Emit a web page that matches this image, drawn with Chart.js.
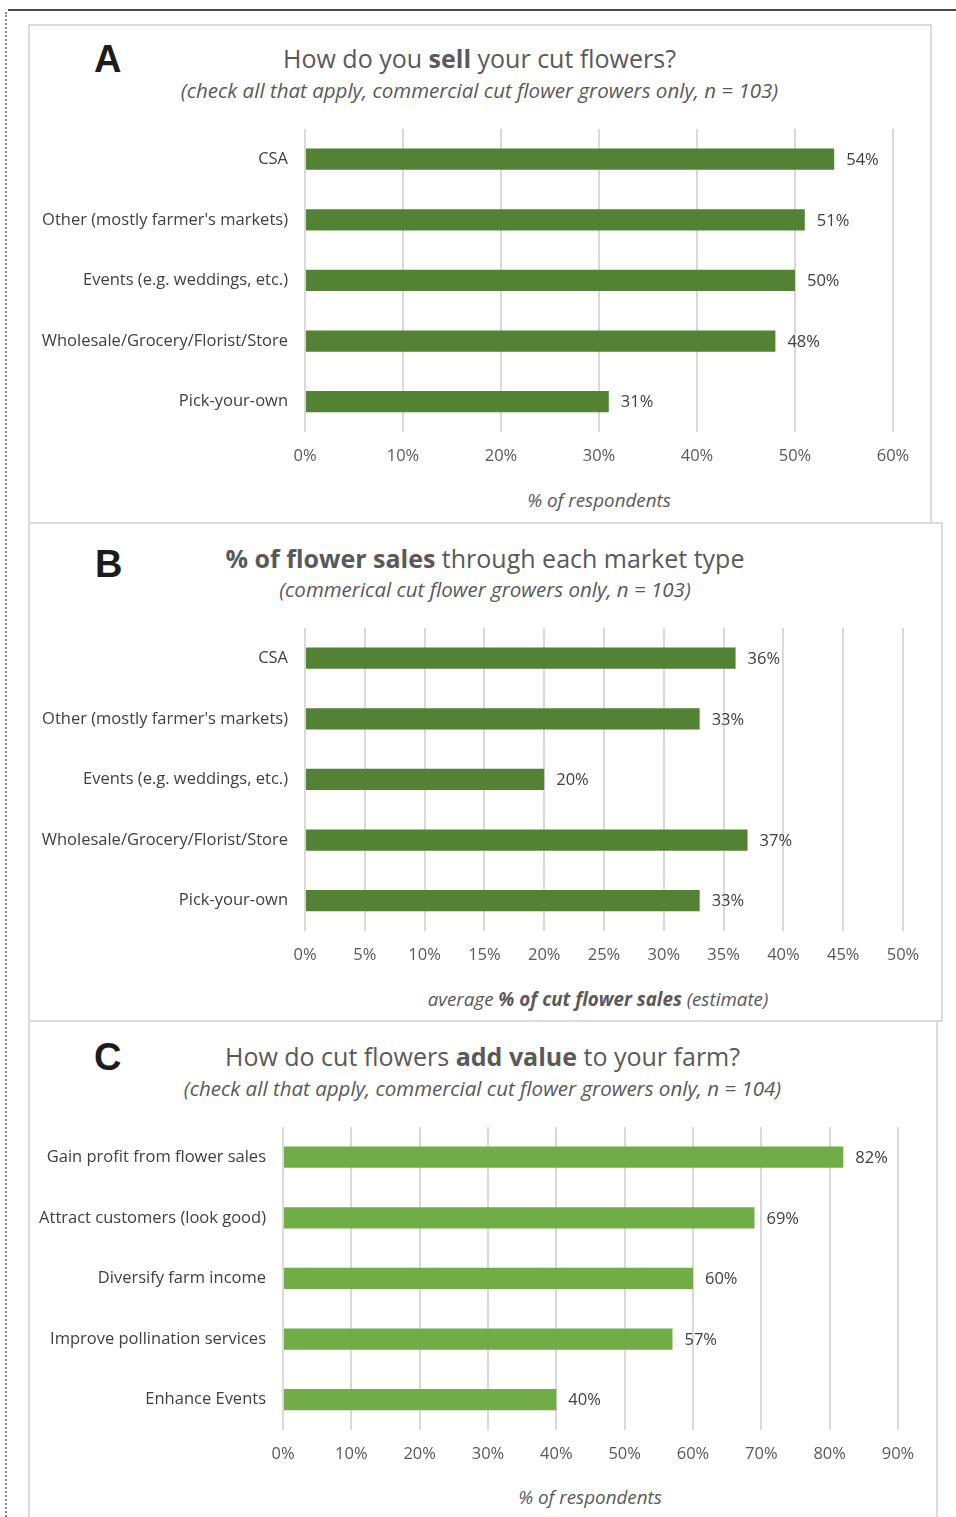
<!DOCTYPE html>
<html>
<head>
<meta charset="utf-8">
<script src="https://cdn.jsdelivr.net/npm/chart.js@4"></script>
<style>
  body { margin: 0; width: 956px; height: 1517px; overflow: hidden; background: #fff; font-family: "Open Sans", sans-serif; position: relative; }
  .abs { position: absolute; }
  .panel { position: absolute; box-sizing: border-box; border: 2px solid #dcdcdc; background: #fff; }
  .letter { position: absolute; font: bold 38px "Liberation Sans", Arial, sans-serif; line-height: 40px; color: #1c1c1c; }
  .title { position: absolute; text-align: center; font-size: 25px; line-height: 30px; color: #595959; white-space: nowrap; }
  .sub { position: absolute; text-align: center; font-size: 20.5px; font-style: italic; line-height: 26px; color: #595959; white-space: nowrap; }
  .axt { position: absolute; width: 600px; text-align: center; font-size: 18.8px; font-style: italic; line-height: 24px; color: #595959; white-space: nowrap; }
  canvas { position: absolute; }
</style>
</head>
<body>
<div class="abs" style="left:8px;top:9px;width:948px;height:0;border-top:2px solid #4a4a4a;"></div>
<div class="abs" style="left:5px;top:12px;width:0;height:1505px;border-left:2px dotted #8a8a8a;"></div>

<div class="panel" style="left:28px;top:24px;width:904px;height:500px;"></div>
<div class="panel" style="left:28px;top:522px;width:915px;height:500px;"></div>
<div class="panel" style="left:28px;top:1020px;width:910px;height:520px;"></div>

<div class="letter" style="left:94px;top:39px;">A</div>
<div class="title" style="left:28px;width:903px;top:43px;">How do you <b>sell</b> your cut flowers?</div>
<div class="sub" style="left:28px;width:903px;top:77px;">(check all that apply, commercial cut flower growers only, n = 103)</div>
<canvas id="chartA" width="903" height="373" style="left:28px;top:102px;"></canvas>
<div class="axt" style="left:299px;top:488px;">% of respondents</div>

<div class="letter" style="left:95px;top:544px;">B</div>
<div class="title" style="left:28px;width:914px;top:543px;"><b>% of flower sales</b> through each market type</div>
<div class="sub" style="left:28px;width:914px;top:576px;">(commerical cut flower growers only, n = 103)</div>
<canvas id="chartB" width="914" height="373" style="left:28px;top:601px;"></canvas>
<div class="axt" style="left:298px;top:987px;">average <b>% of cut flower sales</b> (estimate)</div>

<div class="letter" style="left:94px;top:1037px;">C</div>
<div class="title" style="left:28px;width:909px;top:1041px;">How do cut flowers <b>add value</b> to your farm?</div>
<div class="sub" style="left:28px;width:909px;top:1075px;">(check all that apply, commercial cut flower growers only, n = 104)</div>
<canvas id="chartC" width="909" height="373" style="left:28px;top:1100px;"></canvas>
<div class="axt" style="left:290px;top:1485px;">% of respondents</div>

<script>
// panel A: how growers sell
const marketsA = ['CSA', "Other (mostly farmer's markets)", 'Events (e.g. weddings, etc.)', 'Wholesale/Grocery/Florist/Store', 'Pick-your-own'];
const sellPct = [54, 51, 50, 48, 31];

// panel B: share of sales per market
const marketsB = ['CSA', "Other (mostly farmer's markets)", 'Events (e.g. weddings, etc.)', 'Wholesale/Grocery/Florist/Store', 'Pick-your-own'];
const salesShare = [36, 33, 20, 37, 33];

// panel C: added value
const valueReasons = ['Gain profit from flower sales', 'Attract customers (look good)', 'Diversify farm income', 'Improve pollination services', 'Enhance Events'];
const valuePct = [82, 69, 60, 57, 40];

const valueLabels = {
  id: 'valueLabels',
  afterDatasetsDraw(chart) {
    const ctx = chart.ctx;
    const meta = chart.getDatasetMeta(0);
    const data = chart.data.datasets[0].data;
    ctx.save();
    ctx.font = '16.5px "Open Sans"';
    ctx.fillStyle = '#404040';
    ctx.textBaseline = 'middle';
    ctx.textAlign = 'left';
    meta.data.forEach((bar, i) => {
      ctx.fillText(data[i] + '%', bar.x + 12, bar.y + 1);
    });
    ctx.restore();
  }
};

// y tick padding (17) + half a label line (~10) sets the top of the plot, so the canvas starts higher
function buildBars(id, labels, values, max, step, color, yWidth, rightPad) {
  return new Chart(document.getElementById(id), {
    type: 'bar',
    plugins: [valueLabels],
    data: {
      labels: labels,
      datasets: [{ data: values, backgroundColor: color, borderWidth: 0, categoryPercentage: 1, barPercentage: 0.35 }]
    },
    options: {
      indexAxis: 'y',
      responsive: false,
      animation: false,
      layout: { padding: { top: 0, right: rightPad, left: 0, bottom: 0 } },
      plugins: { legend: { display: false }, tooltip: { enabled: false } },
      scales: {
        x: {
          min: 0, max: max,
          grid: { color: '#d9d9d9', lineWidth: 2, drawTicks: false },
          border: { display: false },
          ticks: { stepSize: step, padding: 14, color: '#595959', font: { family: 'Open Sans', size: 16.5 }, callback: v => v + '%' },
          afterFit(scale) { scale.height = 43; }
        },
        y: {
          grid: { display: false, drawTicks: false },
          border: { display: false },
          ticks: { padding: 17, color: '#404040', font: { family: 'Open Sans', size: 16.5 } },
          afterFit(scale) { scale.width = yWidth; }
        }
      }
    }
  });
}

buildBars('chartA', marketsA, sellPct, 60, 10, '#548235', 277, 38);
buildBars('chartB', marketsB, salesShare, 50, 5, '#548235', 277, 39);
buildBars('chartC', valueReasons, valuePct, 90, 10, '#70ad47', 255, 39);
</script>
</body>
</html>
